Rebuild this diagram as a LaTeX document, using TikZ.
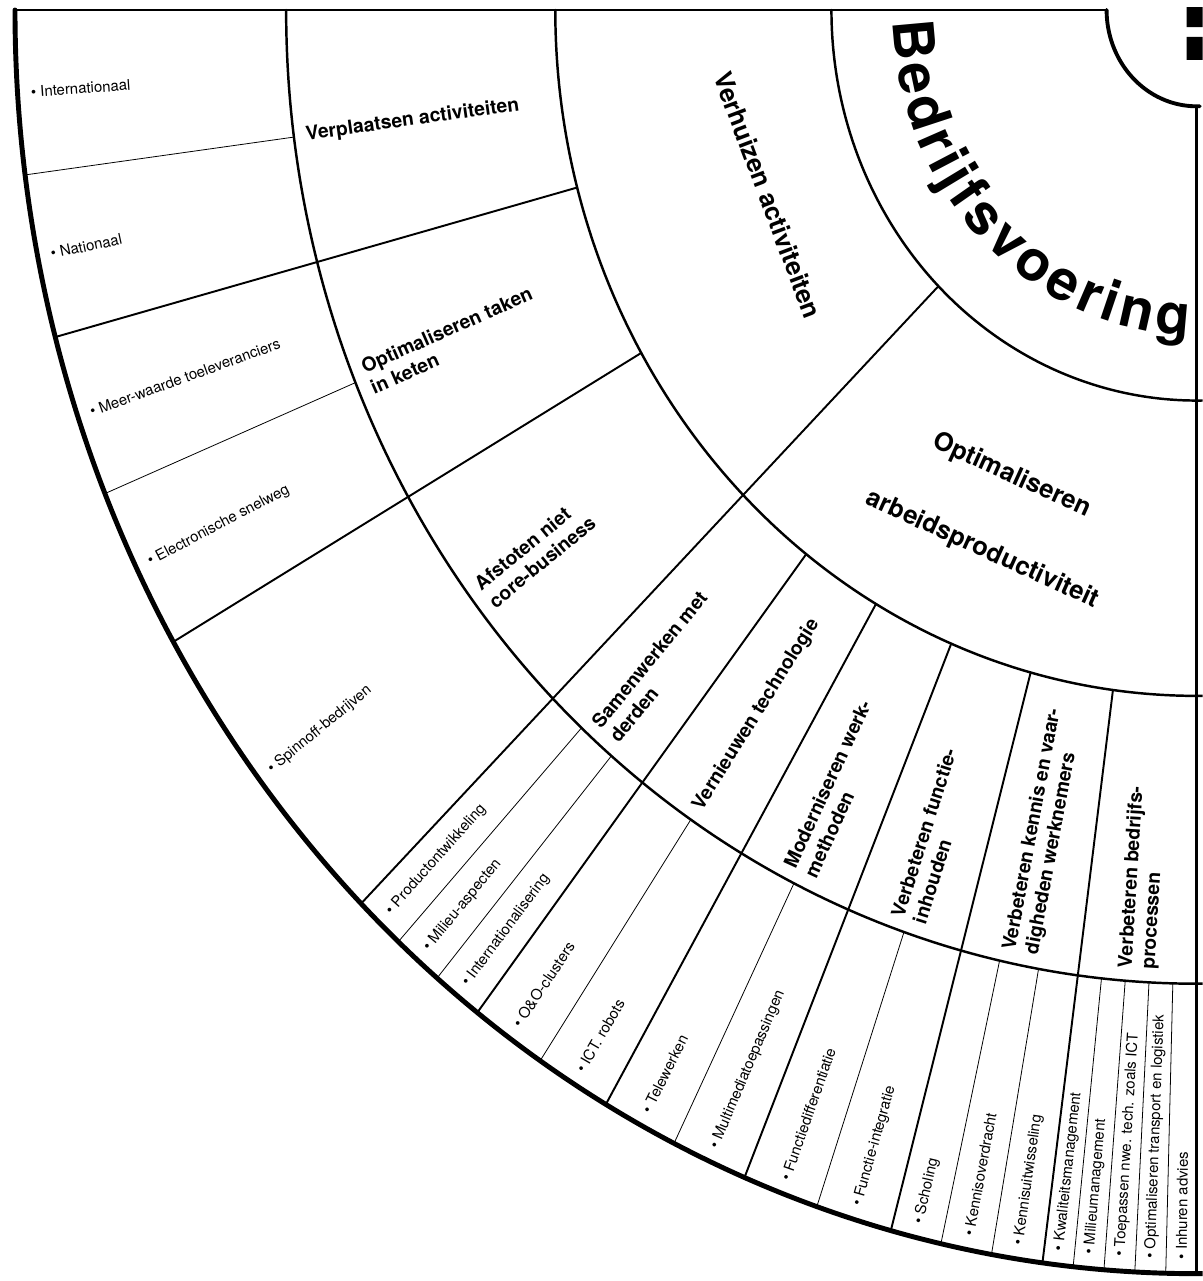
\documentclass[tikz,border=0pt]{standalone}
\usepackage{fontspec}
\setmainfont{TeX Gyre Heros}
\usetikzlibrary{decorations.text}
\begin{document}
\begin{tikzpicture}[x=0.02cm, y=0.0214cm, line cap=round, line join=round,
  ring/.style={line width=1.4pt}, spoke/.style={line width=1.1pt}, thinspoke/.style={line width=0.45pt},
  item/.style={font=\fontsize{8.5}{10}\selectfont, inner sep=0pt, anchor=west},
  topic/.style={font=\bfseries\fontsize{11}{13}\selectfont, inner sep=0pt, anchor=west, align=left},
  theme/.style={font=\bfseries\fontsize{14.5}{16}\selectfont, inner sep=0pt},
  radtext/.style={rotate={atan2(-1.07*sin(#1),-cos(#1))}},
  tantext/.style={rotate={atan2(1.07*cos(#1),-sin(#1))}}]
 \useasboundingbox (-1196,9.35) rectangle (6,-1187.85);
 \clip (-1196,9.35) rectangle (6,-1187.85);
 % rings
 \draw[line width=2.2pt] (180:90) arc[start angle=180, end angle=272, radius=90];
 \foreach \r in {365,641,910} \draw[ring] (180:\r) arc[start angle=180, end angle=272, radius=\r];
 \draw[line width=2.8pt] (180:1181) arc[start angle=180, end angle=272, radius=1181];
 \draw[line width=1.7pt] (180:90)--(180:1181);
 \draw[line width=1.6pt] (270:90)--(270:1181);
 \fill (-10,2.8) rectangle (6,-15.9) (-10,-25.2) rectangle (6,-46.7);
 % spokes
 \draw[spoke] (225:365)--(225:1181);
 \foreach \a in {195,210,232.5,240,247.5,255,262.5} \draw[spoke] (\a:641)--(\a:1181);
 \foreach \a in {187.5,202.5,227.5,230,236.25,243.75,251.25,257.5,260,264,265.5,267,268.5} \draw[thinspoke] (\a:910)--(\a:1181);
 % labels
 \path[decorate, decoration={text along path, text align=fit to path,
   text={|\bfseries\fontsize{32}{32}\selectfont|Bedrijfsvoering}}] (182:304) arc[start angle=182, end angle=268.5, radius=304];
 \node[theme, tantext=202] (verhuizen) at (202:462) {Verhuizen activiteiten};
 \node[theme, tantext=247] (optim) at (247:473) {Optimaliseren};
 \node[theme, tantext=247] (arbeid) at (247:548) {arbeidsproductiviteit};
 \foreach \a/\t [count=\i] in {187.5/Verplaatsen activiteiten, 202.5/{Optimaliseren taken\\in keten}, 217.5/{Afstoten niet\\core-business},
   228.75/{Samenwerken met\\derden}, 236.25/Vernieuwen technologie, 243.75/{Moderniseren werk-\\methoden}, 251.25/{Verbeteren functie-\\inhouden},
   258.75/{Verbeteren kennis en vaar-\\digheden werknemers}, 266.25/{Verbeteren bedrijfs-\\processen}}
   \node[topic, radtext=\a] (topic\i) at (\a:898) {\t};
 \foreach \a/\t [count=\i] in {183.75/Internationaal, 191.25/Nationaal, 198.75/Meer-waarde toeleveranciers, 206.25/Electronische snelweg,
   217.5/Spinnoff-bedrijven, 226.25/Productontwikkeling, 228.75/Milieu-aspecten, 231.25/Internationalisering, 234.375/O\&O-clusters,
   238.125/ICT. robots, 241.875/Telewerken, 245.625/Multimediatoepassingen, 249.375/Functiedifferentiatie, 253.125/Functie-integratie,
   256.25/Scholing, 258.75/Kennisoverdracht, 261.25/Kennisuitwisseling, 263.25/Kwaliteitsmanagement, 264.75/Milieumanagement,
   266.25/Toepassen nwe. tech. zoals ICT, 267.75/Optimaliseren transport en logistiek, 269.25/Inhuren advies}
   \node[item, radtext=\a] (item\i) at (\a:1168) {\textbullet\ \t};
\end{tikzpicture}
\end{document}
